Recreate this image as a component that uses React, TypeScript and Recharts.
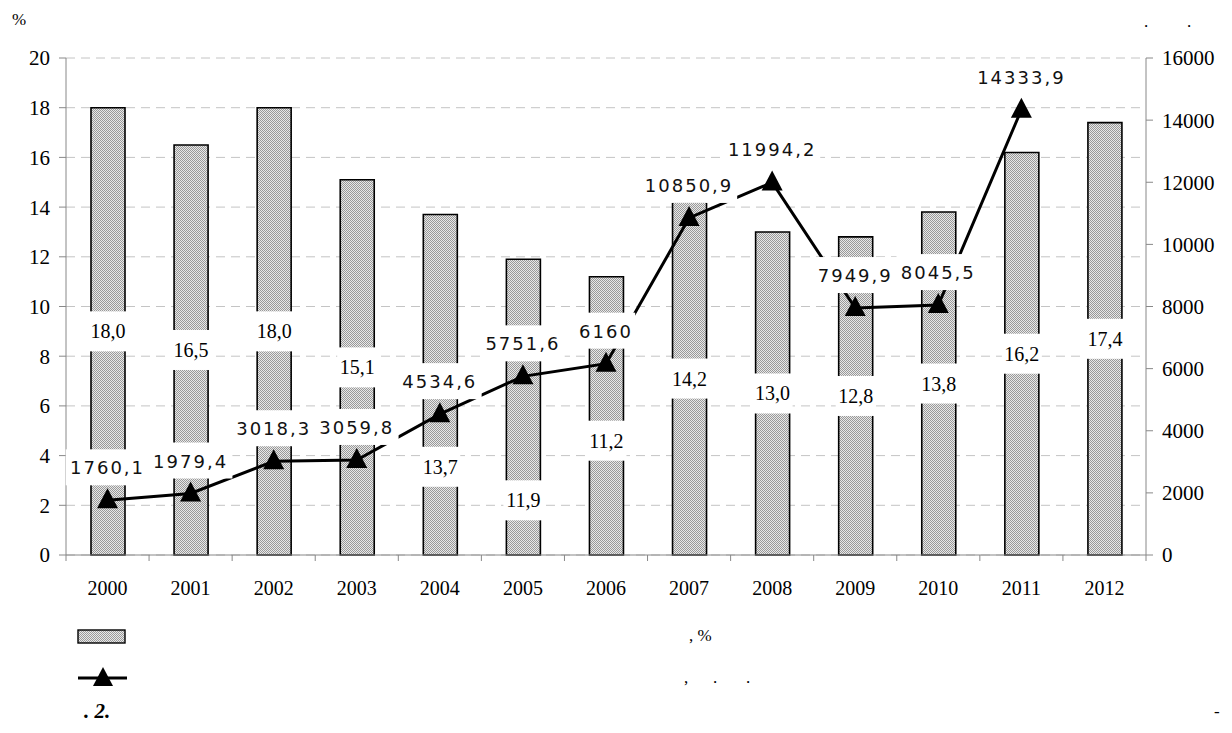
import React from "react";
import { ComposedChart, Bar, Line, XAxis, YAxis, CartesianGrid, LabelList } from "recharts";

// values
const years = ["2000", "2001", "2002", "2003", "2004", "2005", "2006", "2007", "2008", "2009", "2010", "2011", "2012"];
const sharePct = [18.0, 16.5, 18.0, 15.1, 13.7, 11.9, 11.2, 14.2, 13.0, 12.8, 13.8, 16.2, 17.4];
const amount = [1760.1, 1979.4, 3018.3, 3059.8, 4534.6, 5751.6, 6160, 10850.9, 11994.2, 7949.9, 8045.5, 14333.9, null];
const leftTicks = [0, 2, 4, 6, 8, 10, 12, 14, 16, 18, 20];
const rightTicks = [0, 2000, 4000, 6000, 8000, 10000, 12000, 14000, 16000];

const data = years.map((year, i) => ({ year, share: sharePct[i], amount: amount[i] }));

// layout
const W = 1232;
const H = 733;
const TOP = 58;
const LEFT_W = 66;
const RIGHT_W = 86;
const X_H = 40;
const BOTTOM = 555;
const BAND = (W - LEFT_W - RIGHT_W) / years.length;

// a few bar labels were pushed down in the original so they don't hit the line labels
const barLabelAt: Record<number, number> = { 4: 3.55, 5: 2.2, 6: 4.6 };

const serif = "'Liberation Serif', 'Times New Roman', serif";
const sans = "'DejaVu Sans', Verdana, sans-serif";
const comma = (v: number) => String(v).replace(".", ",");

const BarValue = (props: any) => {
  const { x, y, width, height, value, index } = props;
  if (value == null) return null;
  const cx = x + width / 2;
  const at = barLabelAt[index];
  const cy = at != null ? y + height - (at * height) / value : y + height / 2;
  const txt = value.toFixed(1).replace(".", ",");
  return (
    <g>
      <rect x={cx - 20} y={cy - 20} width={40} height={40} fill="#fff" />
      <text x={cx} y={cy} dy={7} textAnchor="middle" fontFamily={serif} fontSize={20} fill="#000">
        {txt}
      </text>
    </g>
  );
};

const LineValue = (props: any) => {
  const { x, y, value } = props;
  if (value == null || x == null || y == null) return null;
  const txt = comma(value);
  const w = txt.length * 12.6 + 8;
  const cy = y - 33;
  return (
    <g>
      <rect x={x - w / 2} y={cy - 18} width={w} height={36} fill="#fff" />
      <text x={x} y={cy} dy={7} textAnchor="middle" fontFamily={sans} fontSize={18} fontWeight={400} letterSpacing={2} fill="#111">
        {txt}
      </text>
    </g>
  );
};

const Triangle = (props: any) => {
  const { cx, cy, index } = props;
  if (cx == null || cy == null) return <g key={index} />;
  return <path key={index} d={`M${cx},${cy - 12} L${cx + 10.5},${cy + 8} L${cx - 10.5},${cy + 8} Z`} fill="#000" />;
};

const YearTick = (props: any) => {
  const { x, payload, index } = props;
  const left = x - BAND / 2;
  return (
    <g>
      <line x1={left} x2={left} y1={BOTTOM} y2={BOTTOM + 6} stroke="#888" />
      {index === years.length - 1 && (
        <line x1={x + BAND / 2} x2={x + BAND / 2} y1={BOTTOM} y2={BOTTOM + 6} stroke="#888" />
      )}
      <text x={x} y={BOTTOM + 40} textAnchor="middle" fontFamily={serif} fontSize={20} fill="#000">
        {payload.value}
      </text>
    </g>
  );
};

const txt = (left: number, top: number, s: string, extra: React.CSSProperties = {}) => (
  <div style={{ position: "absolute", left, top, fontFamily: serif, fontSize: 17, lineHeight: "20px", whiteSpace: "pre", ...extra }}>
    {s}
  </div>
);

export default function App() {
  return (
    <div style={{ position: "relative", width: W, height: H, background: "#fff" }}>
      <style>{"body{margin:0}"}</style>
      <svg width={0} height={0} style={{ position: "absolute" }}>
        <defs>
          <pattern id="barDots" width="2" height="2" patternUnits="userSpaceOnUse">
            <rect width="2" height="2" fill="#e8e8e8" />
            <rect width="1" height="1" fill="#999" />
            <rect x="1" y="1" width="1" height="1" fill="#999" />
          </pattern>
        </defs>
      </svg>

      <ComposedChart
        width={W}
        height={H}
        data={data}
        margin={{ top: TOP, right: 0, left: 0, bottom: H - BOTTOM - X_H }}
      >
        <CartesianGrid vertical={false} yAxisId="left" stroke="#c4c4c4" strokeDasharray="9 6" />
        <XAxis
          dataKey="year"
          height={X_H}
          axisLine={{ stroke: "#888" }}
          tickLine={false}
          tick={<YearTick />}
          interval={0}
        />
        <YAxis
          yAxisId="left"
          width={LEFT_W}
          domain={[0, 20]}
          ticks={leftTicks}
          axisLine={{ stroke: "#888" }}
          tickLine={{ stroke: "#888" }}
          tickSize={7}
          tickMargin={9}
          tick={{ fontFamily: serif, fontSize: 21, fill: "#000" }}
        />
        <YAxis
          yAxisId="right"
          orientation="right"
          width={RIGHT_W}
          domain={[0, 16000]}
          ticks={rightTicks}
          axisLine={{ stroke: "#888" }}
          tickLine={{ stroke: "#888" }}
          tickSize={7}
          tickMargin={9}
          tick={{ fontFamily: serif, fontSize: 21, fill: "#000", textAnchor: "start" }}
        />
        <Bar
          yAxisId="left"
          dataKey="share"
          barSize={34}
          fill="url(#barDots)"
          stroke="#000"
          strokeWidth={1.6}
          isAnimationActive={false}
        >
          <LabelList dataKey="share" content={<BarValue />} />
        </Bar>
        <Line
          yAxisId="right"
          dataKey="amount"
          stroke="#000"
          strokeWidth={3}
          dot={Triangle}
          activeDot={false}
          connectNulls={false}
          isAnimationActive={false}
        >
          <LabelList dataKey="amount" content={<LineValue />} />
        </Line>
      </ComposedChart>

      {txt(12, 10, "%")}
      {txt(1144, 12, ".")}
      {txt(1187, 12, ".")}

      <svg width={60} height={80} style={{ position: "absolute", left: 70, top: 620 }}>
        <rect x={8} y={10} width={47} height={13} fill="url(#barDots)" stroke="#000" strokeWidth={1.4} />
        <line x1={8} x2={57} y1={58} y2={58} stroke="#000" strokeWidth={3} />
        <path d="M33,47 L43,66 L23,66 Z" fill="#000" />
      </svg>
      {txt(689, 626, ", %")}
      {txt(684, 668, ",")}
      {txt(713, 668, ".")}
      {txt(746, 668, ".")}
      {txt(84, 699, ". 2.", { fontWeight: "bold", fontStyle: "italic", fontSize: 21, lineHeight: "24px" })}
      {txt(1214, 702, "-")}
    </div>
  );
}
